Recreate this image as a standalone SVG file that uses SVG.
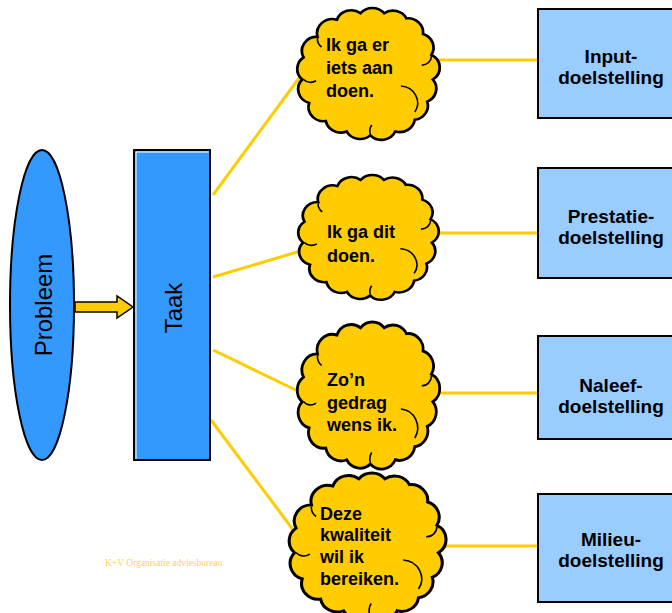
<svg xmlns="http://www.w3.org/2000/svg" xmlns:xlink="http://www.w3.org/1999/xlink" width="672" height="613" viewBox="0 0 672 613">
<style>
  .conn { stroke: #FFCC00; stroke-width: 3; fill: none; }
  .cloud { fill: #FFCC00; stroke: #000; stroke-width: 2; vector-effect: non-scaling-stroke; }
  .inner { fill: none; stroke: #000; stroke-width: 1.6; vector-effect: non-scaling-stroke; }
  .box { fill: #99CCFF; stroke: #000; stroke-width: 2; }
  .ctext { font-family: "Liberation Sans", Arial, sans-serif; font-weight: bold; font-size: 18px; fill: #000; }
  .btext { font-family: "Liberation Sans", Arial, sans-serif; font-weight: bold; font-size: 19px; fill: #000; text-anchor: middle; }
  .vtext { font-family: "Liberation Sans", Arial, sans-serif; font-size: 24px; fill: #000; text-anchor: middle; }
</style>
<defs>
  <path id="cloudShape" d="M14,22 A11,11 0 0 1 28,9 A11,11 0 0 1 45,4 A11,11 0 0 1 62,4 A11,11 0 0 1 78,8 A11,11 0 0 1 90,20 A11,11 0 0 1 96,36 A11,11 0 0 1 97,55 A11,11 0 0 1 93,72 A11,11 0 0 1 84,86 A11,11 0 0 1 70,95 A11,11 0 0 1 52,98 A11,11 0 0 1 35,95 A11,11 0 0 1 20,87 A11,11 0 0 1 8,73 A11,11 0 0 1 3,55 A11,11 0 0 1 4,38 A11,11 0 0 1 14,22 Z"/>
  <g id="cloud">
    <use xlink:href="#cloudShape" class="cloud"/>
    <path class="inner" d="M4,55 A7,7 0 0 0 13,56"/>
    <path class="inner" d="M96,37 A7,7 0 0 1 89,44"/>
    <path class="inner" d="M74,60 A13,13 0 0 1 84,80"/>
    <path class="inner" d="M52,97 A9,9 0 0 1 53,90"/>
    <path class="inner" d="M14,23 A8,8 0 0 0 17,30"/>
  </g>
</defs>

<g id="connectors">
  <line class="conn" x1="213" y1="195" x2="302" y2="74"/>
  <line class="conn" x1="213" y1="277" x2="304" y2="250"/>
  <line class="conn" x1="213" y1="350" x2="302" y2="393"/>
  <line class="conn" x1="211" y1="420" x2="294" y2="531"/>
  <line class="conn" x1="430" y1="60" x2="538" y2="60"/>
  <line class="conn" x1="430" y1="233" x2="538" y2="233"/>
  <line class="conn" x1="430" y1="393" x2="538" y2="393"/>
  <line class="conn" x1="436" y1="546" x2="538" y2="546"/>
  <polygon points="75,302 117,302 117,296 133,307 117,318 117,312 75,312" fill="#FFCC00" stroke="#000" stroke-width="1.5"/>
</g>

<g id="probleem">
  <ellipse cx="42" cy="305" rx="32" ry="155" fill="#3399FF" stroke="#000" stroke-width="2"/>
  <text class="vtext" transform="translate(52,305) rotate(-90)">Probleem</text>
</g>

<g id="taak">
  <rect x="134" y="150" width="76" height="310" fill="#3399FF" stroke="#000" stroke-width="2"/>
  <polyline points="136,459 136,152 209,152" fill="none" stroke="#fff" stroke-width="1"/>
  <text class="vtext" transform="translate(182,308) rotate(-90)">Taak</text>
</g>

<g id="cloud1">
  <use xlink:href="#cloud" transform="translate(298,8) scale(1.39,1.30)"/>
  <text class="ctext" x="326" y="51">Ik ga er</text>
  <text class="ctext" x="326" y="74">iets aan</text>
  <text class="ctext" x="326" y="97">doen.</text>
</g>

<g id="cloud2">
  <use xlink:href="#cloud" transform="translate(299,175) scale(1.37,1.23)"/>
  <text class="ctext" x="327" y="238">Ik ga dit</text>
  <text class="ctext" x="327" y="262">doen.</text>
</g>

<g id="cloud3">
  <use xlink:href="#cloud" transform="translate(298,322) scale(1.39,1.45)"/>
  <text class="ctext" x="327" y="386">Zo’n</text>
  <text class="ctext" x="327" y="409">gedrag</text>
  <text class="ctext" x="327" y="431">wens ik.</text>
</g>

<g id="cloud4">
  <use xlink:href="#cloud" transform="translate(290,473) scale(1.53,1.45)"/>
  <text class="ctext" x="320" y="520">Deze</text>
  <text class="ctext" x="320" y="541">kwaliteit</text>
  <text class="ctext" x="320" y="563">wil ik</text>
  <text class="ctext" x="320" y="585">bereiken.</text>
</g>

<g id="input">
  <rect class="box" x="538" y="9" width="140" height="109"/>
  <text class="btext" x="611" y="63">Input-</text>
  <text class="btext" x="611" y="84">doelstelling</text>
</g>

<g id="prestatie">
  <rect class="box" x="538" y="168" width="140" height="110"/>
  <text class="btext" x="611" y="223">Prestatie-</text>
  <text class="btext" x="611" y="244">doelstelling</text>
</g>

<g id="naleef">
  <rect class="box" x="538" y="336" width="140" height="103"/>
  <text class="btext" x="611" y="392">Naleef-</text>
  <text class="btext" x="611" y="413">doelstelling</text>
</g>

<g id="milieu">
  <rect class="box" x="538" y="494" width="140" height="108"/>
  <text class="btext" x="611" y="546">Milieu-</text>
  <text class="btext" x="611" y="567">doelstelling</text>
</g>

<text x="105" y="566" font-family="'Liberation Serif', 'Times New Roman', serif" font-size="9.5" fill="#FFD24F">K+V Organisatie adviesbureau</text>
</svg>
